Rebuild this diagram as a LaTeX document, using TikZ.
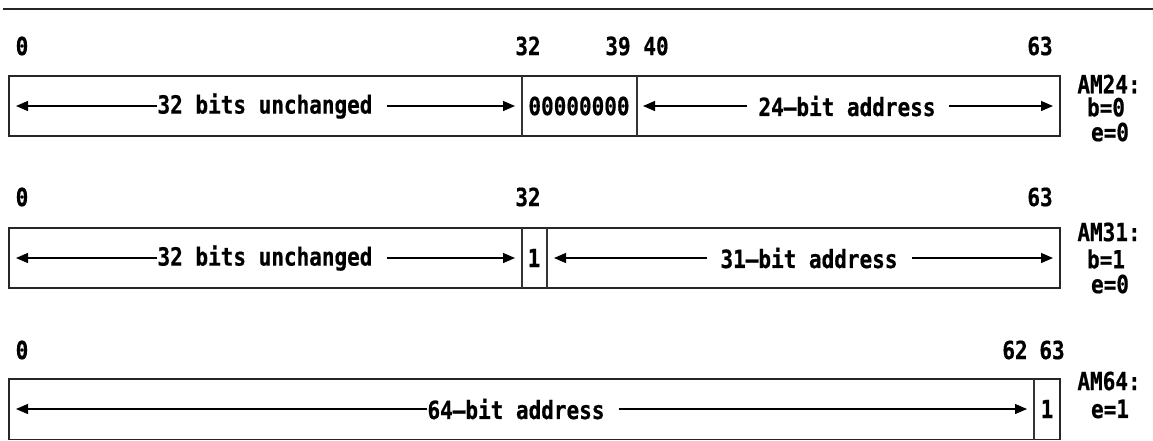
\documentclass[tikz,border=0pt]{standalone}
\usepackage{fontspec}
\newfontfamily\bitfont[FakeStretch=0.84, FakeBold=0.6]{DejaVu Sans Mono}
\usetikzlibrary{arrows.meta}
\tikzset{
  lbl/.style={inner sep=0pt, anchor=center},
  regbox/.style={draw=black!85, line width=1.6pt},
  divline/.style={draw=black!80, line width=1.5pt},
  arr/.style={-{Triangle[length=12pt,width=10pt]}, line width=1.3pt},
  rule/.style={draw=black!85, line width=1.8pt}
}
\begin{document}
\begin{tikzpicture}[x=1pt,y=-1pt, font=\bitfont\bfseries\fontsize{25}{27}\selectfont]
\useasboundingbox (0,0) rectangle (1153,440);
\coordinate (ruleL) at (3,9);
\coordinate (ruleR) at (1153,9);
\draw[rule] (ruleL) -- (ruleR);

% ---------- Row 1: AM24 ----------
\node[lbl] (r1n0)  at (22,46)   {0};
\node[lbl] (r1n32) at (528,46)  {32};
\node[lbl] (r1n39) at (618,46)  {39};
\node[lbl] (r1n40) at (656,46)  {40};
\node[lbl] (r1n63) at (1040,46) {63};
\draw[regbox] (9,76) rectangle (1060,136);
\draw[divline] (522,76) -- (522,136);
\draw[divline] (637,76) -- (637,136);
\node[lbl] (r1t1) at (265,106) {32 bits unchanged};
\node[lbl] (r1t2) at (579,106) {00000000};
\node[lbl] (r1t3) at (847,106) {24—bit address};
\coordinate (r1a) at (16,106);
\coordinate (r1b) at (515,106);
\coordinate (r1c) at (643,106);
\coordinate (r1d) at (1053,106);
\draw[arr] (r1t1.west) -- (r1a);
\draw[arr] ([xshift=14pt]r1t1.east) -- (r1b);
\draw[arr] ([xshift=-11pt]r1t3.west) -- (r1c);
\draw[arr] ([xshift=13pt]r1t3.east) -- (r1d);
\node[lbl] (r1m1) at (1109,84)  {AM24:};
\node[lbl] (r1m2) at (1106,107) {b=0};
\node[lbl] (r1m3) at (1110,132) {e=0};

% ---------- Row 2: AM31 ----------
\node[lbl] (r2n0)  at (22,197)   {0};
\node[lbl] (r2n32) at (528,197)  {32};
\node[lbl] (r2n63) at (1040,197) {63};
\draw[regbox] (9,228) rectangle (1060,288);
\draw[divline] (522,228) -- (522,288);
\draw[divline] (547,228) -- (547,288);
\node[lbl] (r2t1) at (265,258) {32 bits unchanged};
\node[lbl] (r2t2) at (534,258) {1};
\node[lbl] (r2t3) at (809,258) {31—bit address};
\coordinate (r2a) at (16,258);
\coordinate (r2b) at (515,258);
\coordinate (r2c) at (554,258);
\coordinate (r2d) at (1053,258);
\draw[arr] (r2t1.west) -- (r2a);
\draw[arr] ([xshift=14pt]r2t1.east) -- (r2b);
\draw[arr] ([xshift=-13pt]r2t3.west) -- (r2c);
\draw[arr] ([xshift=14pt]r2t3.east) -- (r2d);
\node[lbl] (r2m1) at (1109,232) {AM31:};
\node[lbl] (r2m2) at (1106,259) {b=1};
\node[lbl] (r2m3) at (1110,284) {e=0};

% ---------- Row 3: AM64 ----------
\node[lbl] (r3n0)  at (22,350)   {0};
\node[lbl] (r3n62) at (1015,350) {62};
\node[lbl] (r3n63) at (1052,350) {63};
\draw[regbox] (9,379) rectangle (1060,439.5);
\draw[divline] (1034,379) -- (1034,439.5);
\node[lbl] (r3t1) at (516,409) {64—bit address};
\node[lbl] (r3t2) at (1047,409) {1};
\coordinate (r3a) at (16,409);
\coordinate (r3b) at (1027,409);
\draw[arr] (r3t1.west) -- (r3a);
\draw[arr] ([xshift=14pt]r3t1.east) -- (r3b);
\node[lbl] (r3m1) at (1109,381) {AM64:};
\node[lbl] (r3m2) at (1110,409) {e=1};
\end{tikzpicture}
\end{document}
